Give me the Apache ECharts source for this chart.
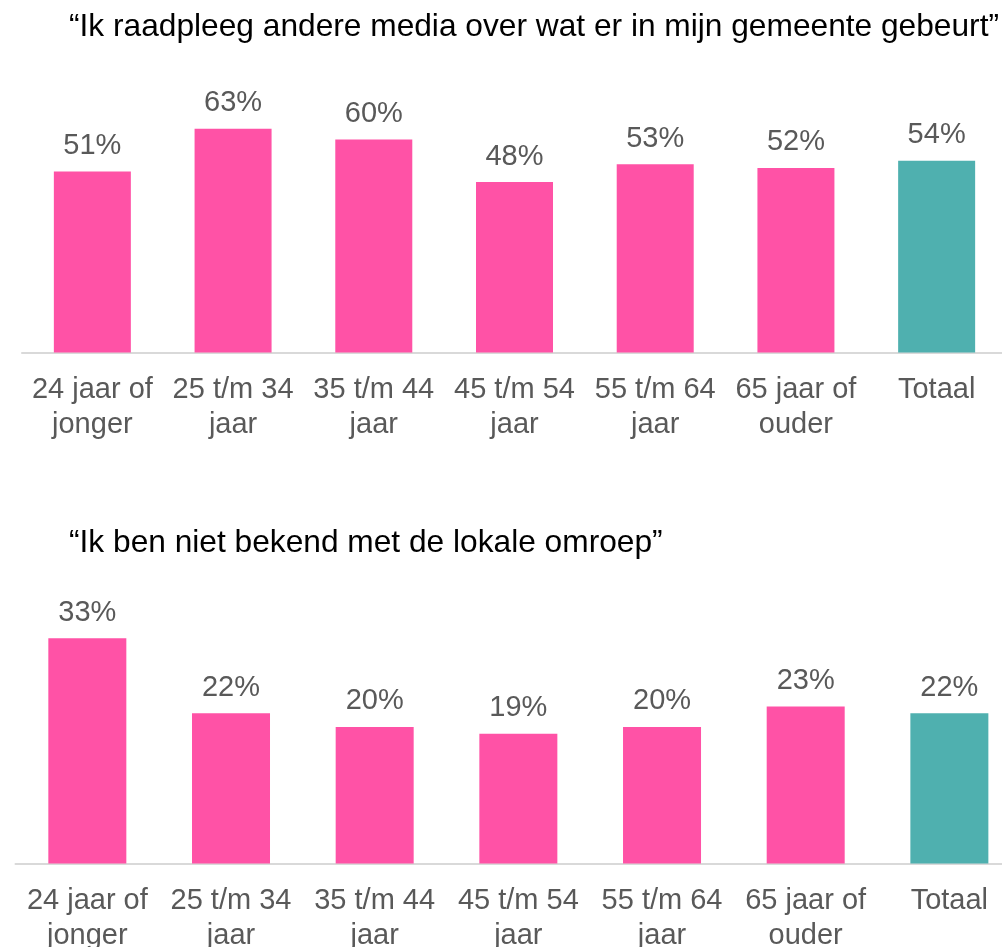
<!DOCTYPE html>
<html>
<head>
<meta charset="utf-8">
<script src="https://cdn.jsdelivr.net/npm/echarts@6/dist/echarts.min.js"></script>
<style>
  html, body { margin: 0; padding: 0; background: #fff; }
  #chart { width: 1002px; height: 947px; }
</style>
</head>
<body>
<div id="chart"></div>
<script>
// categories and values
const categories = ['24 jaar of\njonger', '25 t/m 34\njaar', '35 t/m 44\njaar', '45 t/m 54\njaar', '55 t/m 64\njaar', '65 jaar of\nouder', 'Totaal'];
const mediaValues = [51, 63, 60, 48, 53, 52, 54];
const omroepValues = [33, 22, 20, 19, 20, 23, 22];
const titles = ['\u201cIk raadpleeg andere media over wat er in mijn gemeente gebeurt\u201d', '\u201cIk ben niet bekend met de lokale omroep\u201d'];

const pink = '#FF52A6';
const teal = '#4FB0AF';
const font = 'Liberation Sans, Arial, sans-serif';

const chart = echarts.init(document.getElementById('chart'));

function barData(values) {
    // last bar (Totaal) gets the teal colour
    return values.map((v, i) => ({
        value: v,
        itemStyle: { color: i === values.length - 1 ? teal : pink }
    }));
}

const axisLabel = {
    color: '#595959',
    fontSize: 29,
    fontFamily: font,
    lineHeight: 35,
    margin: 20,
    interval: 0
};

const valueLabel = {
    show: true,
    position: 'top',
    distance: 11,
    color: '#595959',
    fontSize: 29,
    fontFamily: font,
    formatter: '{c}%'
};

const option = {
    animation: false,
    backgroundColor: '#fff',
    title: [
        {
            text: titles[0], left: 64, top: 6,
            textStyle: { color: '#000', fontSize: 31.7, fontWeight: 'normal', fontFamily: font }
        },
        {
            text: titles[1], left: 64, top: 522,
            textStyle: { color: '#000', fontSize: 31.7, fontWeight: 'normal', fontFamily: font }
        }
    ],
    // grids overhang the right edge a bit, like the original slide crop
    grid: [
        { left: 22, width: 985, top: 104, height: 248.5, containLabel: false, outerBoundsMode: 'none' },
        { left: 15.5, width: 1005.7, top: 624.5, height: 239, containLabel: false, outerBoundsMode: 'none' }
    ],
    xAxis: [0, 1].map(i => ({
        type: 'category',
        gridIndex: i,
        data: categories,
        axisLine: { lineStyle: { color: '#D9D9D9', width: 2 } },
        axisTick: { show: false },
        axisLabel: axisLabel
    })),
    yAxis: [
        { type: 'value', gridIndex: 0, min: 0, max: 70, show: false, splitLine: { show: false } },
        { type: 'value', gridIndex: 1, min: 0, max: 35, show: false, splitLine: { show: false } }
    ],
    series: [
        {
            type: 'bar', xAxisIndex: 0, yAxisIndex: 0,
            barWidth: 77,
            data: barData(mediaValues),
            label: valueLabel
        },
        {
            type: 'bar', xAxisIndex: 1, yAxisIndex: 1,
            barWidth: 78,
            data: barData(omroepValues),
            label: valueLabel
        }
    ]
};

chart.setOption(option);
</script>
</body>
</html>
